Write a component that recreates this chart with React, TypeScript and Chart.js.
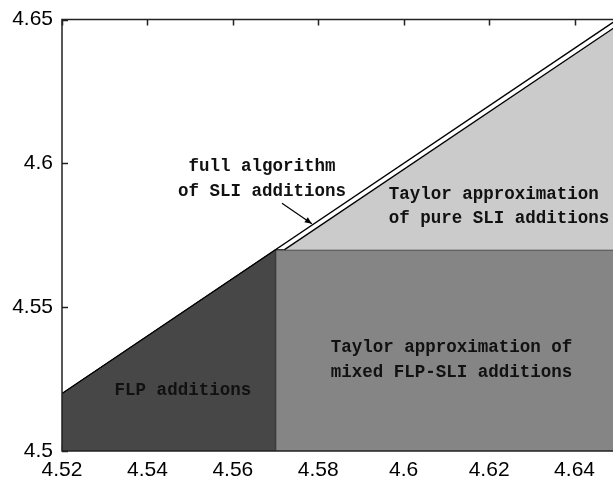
import React, { useEffect, useRef } from "react";
import { Chart, registerables } from "chart.js";

Chart.register(...registerables);

// Axis ranges and tick labels
const X_MIN = 4.52;
const X_MAX = 4.649;
const Y_MIN = 4.5;
const Y_MAX = 4.65;
const xTickValues = [4.52, 4.54, 4.56, 4.58, 4.6, 4.62, 4.64];
const yTickValues = [4.5, 4.55, 4.6, 4.65];

// Region boundaries (data units)
const diagonalX = [4.52, 4.65];
const diagonalY = [4.52, 4.65];
const flpX = [4.52, 4.57];
const flpY = [4.52, 4.57];
const mixedX = [4.57, 4.57, 4.65];
const mixedY = [4.5, 4.57, 4.57];
const pureX = [4.5721, 4.65];
const pureY = [4.57, 4.6479];
const pureBase = 4.57;

// Text labels in data coordinates
const labelTexts = [
  "full algorithm",
  "of SLI additions",
  "Taylor approximation",
  "of pure SLI additions",
  "FLP additions",
  "Taylor approximation of",
  "mixed FLP-SLI additions",
];
const labelX = [4.5668, 4.5668, 4.5965, 4.5965, 4.5483, 4.6112, 4.6112];
const labelY = [4.5989, 4.5902, 4.5892, 4.5809, 4.5211, 4.5359, 4.5273];
const labelAlign: CanvasTextAlign[] = ["center", "center", "left", "left", "center", "center", "center"];

// Arrow from label to the full-algorithm strip
const arrowX = [4.5715, 4.5785];
const arrowY = [4.5861, 4.579];

const pts = (xs: number[], ys: number[]) => xs.map((x, i) => ({ x, y: ys[i] }));

export default function App() {
  const ref = useRef<HTMLCanvasElement | null>(null);

  useEffect(() => {
    if (!ref.current) return;
    const overlay = {
      id: "overlay",
      beforeDatasetsDraw(chart: any) {
        const { ctx, chartArea: a, scales } = chart;
        const xs = scales.x, ys = scales.y;
        ctx.save();
        ctx.strokeStyle = "#222";
        ctx.lineWidth = 1.5;
        ctx.beginPath();
        xTickValues.forEach((v) => {
          const px = Math.round(xs.getPixelForValue(v)) + 0.5;
          ctx.moveTo(px, a.top);
          ctx.lineTo(px, a.top + 6);
          ctx.moveTo(px, a.bottom);
          ctx.lineTo(px, a.bottom - 6);
        });
        yTickValues.forEach((v) => {
          const py = Math.round(ys.getPixelForValue(v)) + 0.5;
          ctx.moveTo(a.left, py);
          ctx.lineTo(a.left + 6, py);
        });
        ctx.stroke();
        ctx.restore();
      },
      afterDatasetsDraw(chart: any) {
        const { ctx, chartArea: a, scales } = chart;
        const xs = scales.x, ys = scales.y;
        ctx.save();
        // axes box (left, top, bottom)
        ctx.strokeStyle = "#222";
        ctx.lineWidth = 1.5;
        ctx.beginPath();
        ctx.moveTo(a.right + 2, a.top);
        ctx.lineTo(a.left, a.top);
        ctx.lineTo(a.left, a.bottom);
        ctx.lineTo(a.right + 2, a.bottom);
        ctx.stroke();

        // labels
        ctx.fillStyle = "#111";
        ctx.font = "bold 17.5px 'Liberation Mono', 'DejaVu Sans Mono', monospace";
        ctx.textBaseline = "middle";
        labelTexts.forEach((t, i) => {
          ctx.textAlign = labelAlign[i];
          ctx.fillText(t, xs.getPixelForValue(labelX[i]), ys.getPixelForValue(labelY[i]));
        });

        // arrow
        const x0 = xs.getPixelForValue(arrowX[0]), y0 = ys.getPixelForValue(arrowY[0]);
        const x1 = xs.getPixelForValue(arrowX[1]), y1 = ys.getPixelForValue(arrowY[1]);
        ctx.strokeStyle = "#000";
        ctx.lineWidth = 1.2;
        ctx.beginPath();
        ctx.moveTo(x0, y0);
        ctx.lineTo(x1, y1);
        ctx.stroke();
        const ang = Math.atan2(y1 - y0, x1 - x0);
        const L = 7, W = 3;
        ctx.fillStyle = "#000";
        ctx.beginPath();
        ctx.moveTo(x1, y1);
        ctx.lineTo(x1 - L * Math.cos(ang) + W * Math.sin(ang), y1 - L * Math.sin(ang) - W * Math.cos(ang));
        ctx.lineTo(x1 - L * Math.cos(ang) - W * Math.sin(ang), y1 - L * Math.sin(ang) + W * Math.cos(ang));
        ctx.closePath();
        ctx.fill();
        ctx.restore();
      },
    };

    const fmt = (v: number) => String(parseFloat(Number(v).toFixed(2)));

    const chart = new Chart(ref.current, {
      type: "line",
      data: {
        datasets: [
          {
            data: pts(diagonalX, diagonalY),
            borderColor: "#000",
            borderWidth: 1.3,
            pointRadius: 0,
            fill: false,
          },
          {
            data: pts(pureX, pureY),
            borderColor: "#000",
            borderWidth: 1.3,
            pointRadius: 0,
            backgroundColor: "#cbcbcb",
            fill: { value: pureBase },
          },
          {
            data: pts(mixedX, mixedY),
            borderColor: "#3c3c3c",
            borderWidth: 1.5,
            pointRadius: 0,
            backgroundColor: "#858585",
            fill: "start",
          },
          {
            data: pts(flpX, flpY),
            borderColor: "#222",
            borderWidth: 1,
            pointRadius: 0,
            backgroundColor: "#474747",
            fill: "start",
          },
        ] as any,
      },
      options: {
        animation: false,
        responsive: false,
        devicePixelRatio: 1,
        layout: { padding: { top: 17, right: 0, left: 0, bottom: 0 } },
        plugins: { legend: { display: false }, tooltip: { enabled: false } },
        elements: { line: { tension: 0 } },
        scales: {
          x: {
            type: "linear",
            min: X_MIN,
            max: X_MAX,
            grid: { display: false, drawTicks: false },
            border: { display: false },
            afterBuildTicks: (s: any) => {
              s.ticks = xTickValues.map((v) => ({ value: v }));
            },
            afterFit: (s: any) => {
              s.height = 31;
            },
            ticks: {
              autoSkip: false,
              maxRotation: 0,
              padding: 9,
              color: "#000",
              font: { family: "'Liberation Sans', Arial, sans-serif", size: 21, lineHeight: 1 },
              callback: (v: any) => fmt(v),
            },
          },
          y: {
            type: "linear",
            min: Y_MIN,
            max: Y_MAX,
            grid: { display: false, drawTicks: false },
            border: { display: false },
            afterBuildTicks: (s: any) => {
              s.ticks = yTickValues.map((v) => ({ value: v }));
            },
            afterFit: (s: any) => {
              s.width = 62;
            },
            ticks: {
              autoSkip: false,
              padding: 9,
              color: "#000",
              font: { family: "'Liberation Sans', Arial, sans-serif", size: 21, lineHeight: 1 },
              callback: (v: any) => fmt(v),
            },
          },
        },
      } as any,
      plugins: [overlay],
    });
    return () => chart.destroy();
  }, []);

  return (
    <div style={{ position: "fixed", left: 0, top: 0, width: 613, height: 482, background: "#fff" }}>
      <canvas ref={ref} width={613} height={482} style={{ display: "block" }} />
    </div>
  );
}
